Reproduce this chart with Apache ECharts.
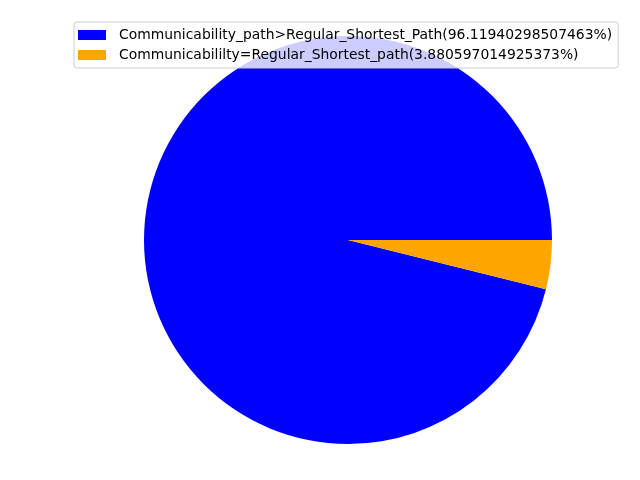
<!DOCTYPE html>
<html>
<head>
<meta charset="utf-8">
<script src="https://cdn.jsdelivr.net/npm/echarts@6/dist/echarts.min.js"></script>
<style>
  html, body { margin: 0; padding: 0; background: #fff; }
  #chart { width: 640px; height: 480px; }
</style>
</head>
<body>
<div id="chart"></div>
<script>
const names = [
  "Communicability_path>Regular_Shortest_Path",
  "Communicabililty=Regular_Shortest_path"
];
const values = [96.11940298507463, 3.880597014925373];
const colors = ["#0000ff", "#ffa500"];

const pieData = names.map(function (n, i) {
  return { name: n, value: values[i], itemStyle: { color: colors[i] } };
});

const chart = echarts.init(document.getElementById("chart"));
chart.setOption({
  animation: false,
  legend: {
    orient: "vertical",
    left: 74,
    top: 22,
    padding: [6, 6, 6, 4],
    itemWidth: 28,
    itemHeight: 10,
    itemGap: 6,
    icon: "rect",
    backgroundColor: "rgba(255,255,255,0.8)",
    borderColor: "#cccccc",
    borderWidth: 1,
    borderRadius: 3,
    textStyle: {
      fontFamily: "DejaVu Sans",
      fontSize: 13.9,
      color: "#000",
      lineHeight: 14,
      padding: [0, 0, 0, 8]
    },
    formatter: function (name) {
      const i = names.indexOf(name);
      return name + "(" + values[i] + "%)";
    },
    data: names
  },
  series: [
    {
      type: "pie",
      center: [348, 240],
      radius: 204,
      startAngle: 0,
      clockwise: false,
      label: { show: false },
      labelLine: { show: false },
      emphasis: { disabled: true },
      itemStyle: { borderWidth: 0 },
      data: pieData
    }
  ]
});
</script>
</body>
</html>
